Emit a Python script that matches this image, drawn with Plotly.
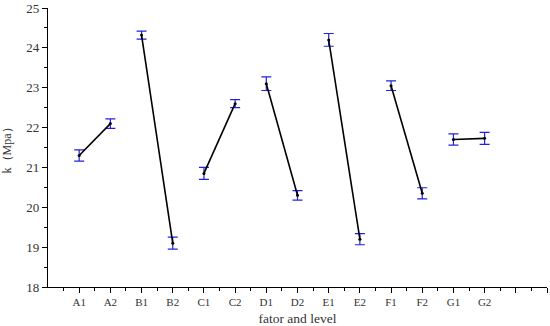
import plotly.graph_objects as go

levels = ["A1", "A2", "B1", "B2", "C1", "C2", "D1", "D2", "E1", "E2", "F1", "F2", "G1", "G2"]
k_values = [21.3, 22.1, 24.32, 19.1, 20.85, 22.6, 23.1, 20.3, 24.2, 19.2, 23.05, 20.35, 21.7, 21.73]
k_errors = [0.14, 0.12, 0.1, 0.15, 0.15, 0.1, 0.17, 0.12, 0.16, 0.14, 0.12, 0.14, 0.14, 0.15]
x_pos = list(range(1, len(levels) + 1))

fig = go.Figure()
for i in range(0, len(levels), 2):
    fig.add_trace(go.Scatter(
        x=x_pos[i:i + 2], y=k_values[i:i + 2],
        mode="lines+markers",
        line=dict(color="black", width=1.6),
        marker=dict(color="black", size=3),
        error_y=dict(type="data", array=k_errors[i:i + 2], color="#2222dd", thickness=1.2, width=5),
        showlegend=False,
    ))

tick_vals = list(range(1, 17))
tick_text = levels + ["", ""]

font = dict(family="Liberation Serif, Times New Roman, serif", color="#333333")
fig.update_layout(
    width=550, height=326,
    margin=dict(l=48, r=3, t=8, b=39, autoexpand=False),
    plot_bgcolor="white", paper_bgcolor="white",
    font=dict(size=12, **font),
)
fig.update_xaxes(
    range=[0, 16], tickvals=tick_vals, ticktext=tick_text, automargin=False,
    showline=True, linecolor="black", linewidth=1.2, mirror=False,
    ticks="outside", ticklen=5, tickcolor="black", showgrid=False, zeroline=False,
    minor=dict(tickvals=[v + 0.5 for v in range(0, 16)], ticks="outside", ticklen=3, tickcolor="black"),
    tickfont=dict(size=11),
    title=dict(text="fator and level", font=dict(size=13.5)),
)
fig.update_yaxes(
    range=[18, 25], dtick=1, automargin=False,
    showline=True, linecolor="black", linewidth=1.2, mirror=False,
    ticks="outside", ticklen=5, tickcolor="black", showgrid=False, zeroline=False,
    minor=dict(dtick=0.5, ticks="outside", ticklen=3, tickcolor="black"),
    tickfont=dict(size=13),
    title=dict(text="k（Mpa）", font=dict(size=12)),
)

fig.write_html("out.html", config={"displayModeBar": False},
               post_script="document.body.style.margin='0';")
